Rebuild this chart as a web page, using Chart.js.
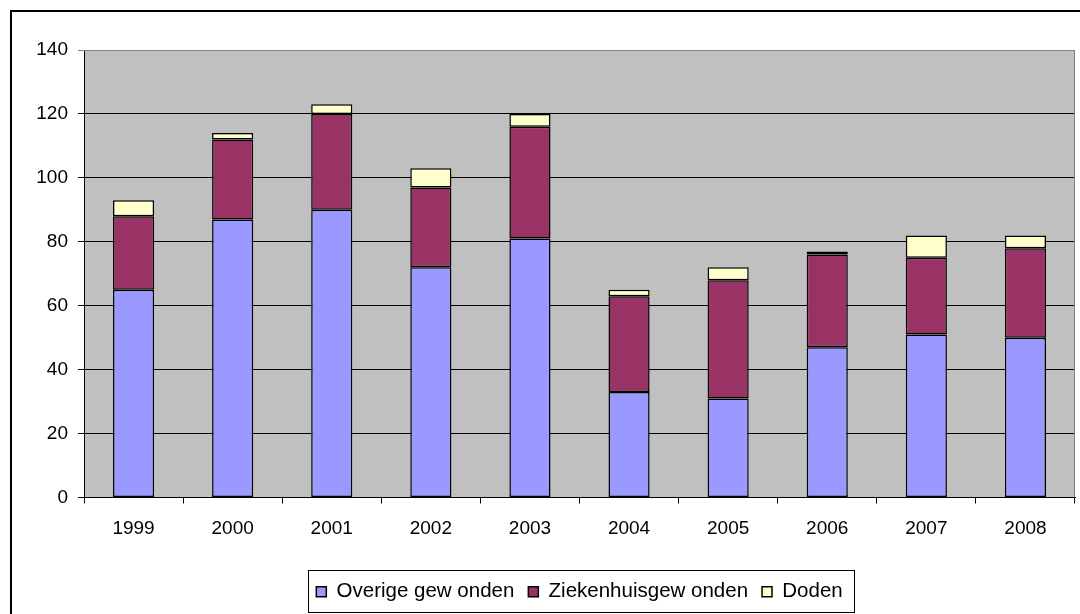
<!DOCTYPE html>
<html>
<head>
<meta charset="utf-8">
<script src="https://cdn.jsdelivr.net/npm/chart.js@4"></script>
<style>
  html, body { margin: 0; padding: 0; background: #fff; overflow: hidden; }
  #wrap { width: 1160px; height: 640px; }
</style>
</head>
<body>
<div id="wrap"><canvas id="chart" width="1160" height="640"></canvas></div>
<script>
const years = ['1999', '2000', '2001', '2002', '2003', '2004', '2005', '2006', '2007', '2008'];
const overige = [65, 87, 90, 72, 81, 33, 31, 47, 51, 50];
const ziekenhuis = [23, 25, 30, 25, 35, 30, 37, 29, 24, 28];
const doden = [5, 2, 3, 6, 4, 2, 4, 1, 7, 4];

// grey plot area, outer frame and a frame round the legend items
const frames = {
  id: 'frames',
  beforeDraw(chart) {
    const { ctx, chartArea: a } = chart;
    ctx.save();
    ctx.fillStyle = '#c0c0c0';
    ctx.fillRect(a.left, a.top, a.right - a.left, a.bottom - a.top);
    ctx.restore();
  },
  afterDraw(chart) {
    const { ctx, chartArea: a, legend } = chart;
    ctx.save();
    ctx.strokeStyle = '#808080';
    ctx.lineWidth = 1;
    ctx.beginPath();
    ctx.moveTo(a.left, a.top + 0.5);
    ctx.lineTo(a.right - 0.5, a.top + 0.5);
    ctx.lineTo(a.right - 0.5, a.bottom);
    ctx.stroke();
    ctx.strokeStyle = '#000';
    ctx.lineWidth = 2;
    ctx.strokeRect(11, 11, 1160, 640);
    const hb = legend.legendHitBoxes;
    const l = Math.min(...hb.map(b => b.left)) - 8;
    const r = Math.max(...hb.map(b => b.left + b.width)) + 12;
    ctx.lineWidth = 1;
    ctx.strokeStyle = '#000';
    ctx.strokeRect(Math.round(l) + 0.5, Math.round(legend.top) + 2.5,
      Math.round(r - l), 42);
    ctx.restore();
  }
};

new Chart(document.getElementById('chart').getContext('2d'), {
  type: 'bar',
  data: {
    labels: years,
    datasets: [
      { label: 'Overige gew onden', data: overige, backgroundColor: '#9999ff' },
      { label: 'Ziekenhuisgew onden', data: ziekenhuis, backgroundColor: '#993366' },
      { label: 'Doden', data: doden, backgroundColor: '#ffffcc' }
    ]
  },
  options: {
    responsive: false,
    animation: false,
    datasets: {
      bar: {
        borderColor: '#000',
        borderWidth: 1.5,
        borderSkipped: false,
        categoryPercentage: 0.415,
        barPercentage: 1
      }
    },
    layout: { padding: { left: 10, top: 50, right: 85, bottom: 28 } },
    font: { family: 'Liberation Sans, Arial, sans-serif', size: 19 },
    scales: {
      x: {
        stacked: true,
        border: { color: '#000' },
        grid: { offset: true, drawOnChartArea: false, color: '#000', tickLength: 6 },
        ticks: { color: '#000', font: { size: 19 }, padding: 14 },
        afterFit(s) { s.height = 70; }
      },
      y: {
        stacked: true,
        min: 0,
        max: 140,
        border: { color: '#000' },
        grid: {
          color: c => (c.tick && c.tick.value === 140) ? '#808080' : '#000',
          tickLength: 6
        },
        ticks: { stepSize: 20, color: '#000', font: { size: 19 }, padding: 10 },
        afterFit(s) { s.width = 74; }
      }
    },
    plugins: {
      tooltip: { enabled: false },
      legend: {
        position: 'bottom',
        fullSize: false,
        labels: {
          color: '#000',
          font: { size: 20.5 },
          boxWidth: 10,
          boxHeight: 10,
          padding: 14
        }
      }
    }
  },
  plugins: [frames]
});
</script>
</body>
</html>
